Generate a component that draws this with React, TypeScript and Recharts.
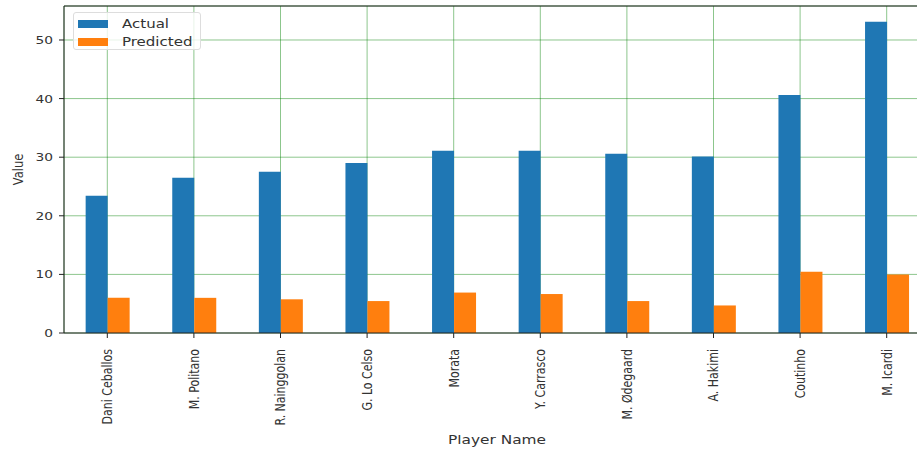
import { BarChart, Bar, XAxis, YAxis, CartesianGrid, ReferenceLine } from 'recharts'

const players = [
  'Dani Ceballos',
  'M. Politano',
  'R. Nainggolan',
  'G. Lo Celso',
  'Morata',
  'Y. Carrasco',
  'M. Ødegaard',
  'A. Hakimi',
  'Coutinho',
  'M. Icardi',
]
const actual = [23.4, 26.5, 27.5, 29.0, 31.1, 31.1, 30.6, 30.1, 40.6, 53.1]
const predicted = [6.0, 6.0, 5.75, 5.45, 6.9, 6.65, 5.45, 4.7, 10.45, 10.0]
const yTicks = [0, 10, 20, 30, 40, 50]
const seriesNames = ['Actual', 'Predicted']
const seriesColors = ['#1f77b4', '#ff7f0e']
const yMax = 55.8

const data = players.map((name, i) => ({ name, Actual: actual[i], Predicted: predicted[i] }))

const font = 'DejaVu Sans, sans-serif'
const textColor = '#333'
// the picture is stretched sideways, so glyphs are wider than tall
const sx = 1.25

function PlayerTick(props: any) {
  const { x, y, payload } = props
  return (
    <g transform={`translate(${x},${y}) scale(${sx},1)`}>
      <text
        transform="rotate(-90)"
        x={-9}
        y={0}
        dy="0.35em"
        textAnchor="end"
        fontSize={11}
        fontFamily={font}
        fill={textColor}
      >
        {payload.value}
      </text>
    </g>
  )
}

function ValueTick(props: any) {
  const { x, y, payload } = props
  return (
    <g transform={`translate(${x},${y}) scale(${sx},1)`}>
      <text x={0} y={0} dy="0.36em" textAnchor="end" fontSize={11} fontFamily={font} fill={textColor}>
        {payload.value}
      </text>
    </g>
  )
}

function ValueLabel(props: any) {
  const vb = props.viewBox
  const cx = vb.x + 18
  const cy = vb.y + vb.height / 2
  return (
    <g transform={`translate(${cx},${cy}) scale(${sx},1)`}>
      <text
        transform="rotate(-90)"
        x={0}
        y={0}
        dy="0.35em"
        textAnchor="middle"
        fontSize={11.5}
        fontFamily={font}
        fill={textColor}
      >
        Value
      </text>
    </g>
  )
}

function PlayerLabel(props: any) {
  const vb = props.viewBox
  const cx = vb.x + vb.width / 2
  const cy = vb.y + vb.height - 8
  return (
    <g transform={`translate(${cx},${cy}) scale(${sx},1)`}>
      <text x={0} y={0} textAnchor="middle" fontSize={12.3} fontFamily={font} fill={textColor}>
        Player Name
      </text>
    </g>
  )
}

export default function App() {
  return (
    <div style={{ position: 'fixed', left: 0, top: 0, width: 917, height: 452, overflow: 'hidden', background: '#fff' }}>
      <BarChart
        width={940}
        height={452}
        data={data}
        margin={{ top: 6, right: 10, bottom: 0, left: 0 }}
        barCategoryGap="25%"
        barGap={0}
      >
        <XAxis
          dataKey="name"
          interval={0}
          height={119}
          tick={<PlayerTick />}
          tickSize={5}
          axisLine={{ stroke: '#222' }}
          tickLine={{ stroke: '#222' }}
          label={<PlayerLabel />}
        />
        <YAxis
          type="number"
          domain={[0, yMax]}
          ticks={yTicks}
          width={64}
          tickSize={5}
          tickMargin={6}
          axisLine={{ stroke: '#222' }}
          tickLine={{ stroke: '#222' }}
          tick={<ValueTick />}
          label={<ValueLabel />}
        />
        {seriesNames.map((s, i) => (
          <Bar key={s} dataKey={s} fill={seriesColors[i]} isAnimationActive={false} />
        ))}
        <CartesianGrid stroke="green" strokeOpacity={0.45} strokeWidth={1} />
        <ReferenceLine y={yMax} stroke="#222" />
      </BarChart>
      <div
        style={{
          position: 'absolute',
          left: 73,
          top: 12,
          width: 128,
          height: 38,
          boxSizing: 'border-box',
          border: '1px solid #ddd',
          borderRadius: 3,
          background: 'rgba(255,255,255,0.8)',
          fontFamily: font,
          fontSize: 12,
          lineHeight: '14px',
          color: textColor,
          padding: '2px 0 0 4px',
        }}
      >
        {seriesNames.map((s, i) => (
          <div key={s} style={{ display: 'flex', alignItems: 'center', height: 18 }}>
            <span style={{ display: 'inline-block', width: 30, height: 8, background: seriesColors[i], marginRight: 14 }} />
            <span style={{ display: 'inline-block', transform: `scaleX(${sx})`, transformOrigin: 'left center' }}>{s}</span>
          </div>
        ))}
      </div>
    </div>
  )
}
